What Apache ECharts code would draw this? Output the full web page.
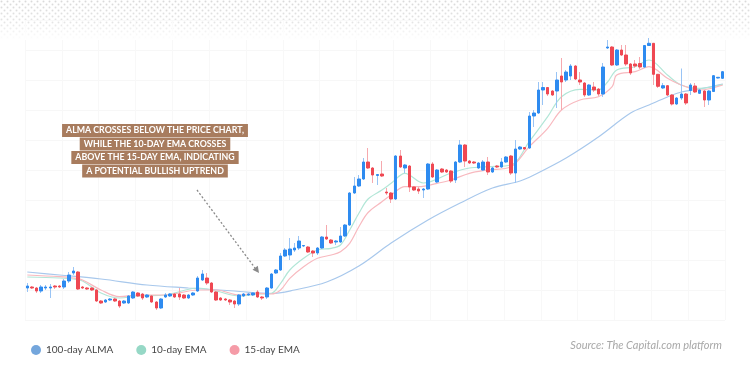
<!DOCTYPE html>
<html><head><meta charset="utf-8">
<script src="https://cdn.jsdelivr.net/npm/echarts@6/dist/echarts.min.js"></script>
<style>html,body{margin:0;padding:0;background:#fff;}#chart{width:750px;height:367px;}</style>
</head><body><div id="chart"></div>
<script>
// ---- candle data (arbitrary price units) ----
const candleOpen = [52,53,52,49,52,52,54,54,53,59,67,68,53,52,52,50,39,38,40,41,39,37,37,42,47,46,43,44,38,32,43,44,46,46,45,42,45,49,60,62,57,48,42,41,40,39,36,44,45,45,48,43,43,52,67,70,84,85,90,92,94,93,89,87,92,103,100,98,98,104,115,147,154,161,178,172,164.5,166,148,147,141,184,172,174,153,151,150,151,176,158,171,170,169,160,178,195,179,178,172,170,178,168,174,173,178,184,167,191,192.5,192,224,227,250,252.5,249,249,264,260,264,274,260,257,245,253,251,246,292,293,275,290,285,276,276,276.5,273,294.5,296.7,265.7,252,254.3,245,236,242,246,249.5,254,246.7,249,240,248.5,262,261.7];
const candleClose = [54,52,49,53,53,53,53,53,59,65,69,51,52,51,50,39,37,40,41,39,34,39,44,48,44,42,45,38,32,41,45,46,43,43,42,45,47,62,66,57,48,40,40,40,38,36,45,46,46,47,43,42,52,66,70,84,90,91,92,99,94.5,88,87,92,103,101,97,99,104,115,147,154,161,178,172,165,165.5,164,147,141,184,173,175,153,150,149,151,176,163,170,168,168,159,178,195,179,177,177,177,178,168,172,173,178,183,167,191,193,191,224,227,250,252.5,246,245,260,258,268,274,261,258,245,255,250,246,273,293,275,290,285,276,267,274,273,294.5,296.7,265.7,253.7,254.3,245,236,242,246,237,255,248,250,240,249,264.3,262.7,268.3];
const candleLow = [48,51,47,47,50,42,51,52,51,57,65,50,51,50,49,38,36,37,39,38,32,36,36,41,43,40,42,37,30,31,42,43,42,40,41,41,44,48,59,55,47,39,39,39,35,32,34,43,44,44,42,40,41,51,66,69,83,80,88,90,93,87,83,85,91,100,96,95,97,103,114,146,153,160,171,157,155,163,145,137,140,172,167,148,149,146,142,150,162,157,167,167,157,157,177,173,176,176,171,169,165,167,172,172,177,165,157,190,190,191,213,226,235,244,244,232,230,258,260,260,255,243,244,248,244,243,291,274,274,284,274,265,272,271,272,294,255,252,251,244,234.5,235,240,235,245,247,246,233,235,248,261.5,261];
const candleHigh = [57,54,53,55,55,56,55,55,61,68,73,69,54,53,53,51,40,41,42,42,40,40,45,49,48,47,46,45,39,42,47,47,47,52,46,46,48,64,70,67,58,49,43,42,41,40,46,47,47,48,50,44,53,67,71,87,92,102,97,104,95,94,90,93,104,115,101,100,113,116,148,163,165,182,192,173,166,179,152,148,185,190,176,175,154,153,152,177,178,171,172,171,170,179,200,196,180,179,178,180,183,173,175,182,184,185,200,194,193,228,230,258,258,253,250,268,282,270,276,275,268,258,256,258,252,277,300,294,291,295,295,277,280,283,295,302,297,266,257,255,246,243,271.5,247,257,257,251,250,250,265,263,269];

// ---- indicator lines, read at selected candle positions ----
const almaX = [0,7,16,26,35,45,53,58,65,72,79,87,94,101,107,110,117,124,131,135,139,142,146,151];
const almaY = [68,65,61,55,52,49,46.5,50,58,74,97,120,137,152,159,165,182,203,227,235,243,248,251,256];
const ema10X = [0,7,10,12,16,20,24,30,37,41,46,50,53,55,57,60,63,66,68,70,72,74,76.5,78.7,81.5,86,92.4,96,100.4,104.8,109,112.8,116.3,120,123.6,126,127.6,131.5,135,139,142.3,146,151];
const ema10Y = [63,62,61,59,47,42,44,45,52,49,44,46,46.7,56.7,70,81.7,90,91.7,95,110,126.7,141,150,156.7,166.7,157,167,172,173.3,175,198.3,223.3,243.3,250.7,250,258,270,273.3,280,265,255,251.7,255.7];
const ema15X = [0,7,10,12,16,20,24,30,37,41,46,50,53,55,57,60,63,66,68,70,72,74,76.5,78.7,81.5,85,89,92.4,96,100.4,104.8,109,112.8,116.3,120,123.6,126.5,128,131.5,135,139,142.3,146,151];
const ema15Y = [65,63.3,62,60,50,43.3,45,45,50,50,45,46.7,46,50,61.7,73.3,81.7,85,88.3,96.7,113.3,127.5,138.3,145,153.3,153.3,156.7,160,166.7,170,173.3,193.3,211.7,230,240,243.3,253.3,265,268.3,273.3,261.7,255,250,255];

const seriesNames = ['100-day ALMA', '10-day EMA', '15-day EMA'];
const annotationLines = [
  'ALMA CROSSES BELOW THE PRICE CHART,',
  'WHILE THE 10-DAY EMA CROSSES',
  'ABOVE THE 15-DAY EMA, INDICATING',
  'A POTENTIAL BULLISH UPTREND'
];
const sourceText = 'Source: The Capital.com platform';

const categories = candleOpen.map((_, i) => 'Day ' + (i + 1));
const ohlc = candleOpen.map((o, i) => [o, candleClose[i], candleLow[i], candleHigh[i]]);
const bodies = candleOpen.map((o, i) => [o, candleClose[i], Math.min(o, candleClose[i]), Math.max(o, candleClose[i])]);
const pairs = (xs, ys) => xs.map((x, i) => [x, ys[i]]);

// dotted pattern for the top band
const pat = document.createElement('canvas');
pat.width = 6; pat.height = 6;
const pc = pat.getContext('2d');
pc.fillStyle = '#d9d9d9';
pc.beginPath(); pc.arc(1.5, 1.5, 1.0, 0, Math.PI * 2); pc.fill();
pc.beginPath(); pc.arc(4.5, 4.5, 1.0, 0, Math.PI * 2); pc.fill();

const chart = echarts.init(document.getElementById('chart'), null, {renderer: 'canvas'});

const annGraphics = annotationLines.map((t, i) => ({
  type: 'text', z: 20,
  x: 155, y: 124 + i * 13.5,
  style: {
    text: t, fill: '#fff', font: 'bold 8.8px Lato', align: 'center',
    backgroundColor: '#a87c5e', padding: [2, 4, 2, 4]
  }
}));

chart.setOption({
  animation: false,
  backgroundColor: '#fff',
  grid: {left: 25, width: 700, top: 20, height: 300},
  xAxis: {
    type: 'category', data: categories, boundaryGap: true,
    axisLine: {show: false}, axisTick: {show: false}, axisLabel: {show: false},
    splitLine: {show: true, interval: 7, lineStyle: {color: '#f8f8f8', width: 1}}
  },
  yAxis: {
    type: 'value', min: 20, max: 320, interval: 30,
    axisLine: {show: false}, axisTick: {show: false}, axisLabel: {show: false},
    splitLine: {show: true, lineStyle: {color: '#f7f7f7', width: 1}}
  },
  legend: {
    data: seriesNames, left: 26, top: 340, icon: 'circle',
    itemWidth: 10, itemHeight: 10, itemGap: 23,
    textStyle: {fontSize: 10, color: '#444', fontFamily: 'Lato'}
  },
  series: [
    {
      name: seriesNames[0], type: 'line', data: pairs(almaX, almaY), smooth: 0.35,
      showSymbol: false, z: 3,
      itemStyle: {color: '#74a6dc'}, lineStyle: {color: '#a8c8ec', width: 1.2}
    },
    {
      name: seriesNames[1], type: 'line', data: pairs(ema10X, ema10Y), smooth: 0.35,
      showSymbol: false, z: 3,
      itemStyle: {color: '#96d8c6'}, lineStyle: {color: '#b2e6d7', width: 1.2}
    },
    {
      name: seriesNames[2], type: 'line', data: pairs(ema15X, ema15Y), smooth: 0.35,
      showSymbol: false, z: 3,
      itemStyle: {color: '#f59ba7'}, lineStyle: {color: '#f8b9bf', width: 1.2}
    },
    {
      name: 'wicks', type: 'candlestick', data: ohlc, barWidth: 1, z: 4,
      itemStyle: {color: '#99c4f5', color0: '#f6a9ae', borderColor: '#99c4f5', borderColor0: '#f6a9ae', borderWidth: 1}
    },
    {
      name: 'bodies', type: 'candlestick', data: bodies, barWidth: 3, z: 5,
      itemStyle: {color: '#2e8bf0', color0: '#ef4853', borderColor: '#2e8bf0', borderColor0: '#ef4853', borderWidth: 1}
    }
  ],
  graphic: [
    {type: 'rect', shape: {x: 0, y: 0, width: 750, height: 40}, z: 0, silent: true,
     style: {fill: {image: pat, repeat: 'repeat'}}},
    {type: 'rect', shape: {x: 0, y: 0, width: 750, height: 40}, z: 1, silent: true,
     style: {fill: new echarts.graphic.LinearGradient(0, 0, 0, 1, [
       {offset: 0, color: 'rgba(255,255,255,0)'},
       {offset: 0.55, color: 'rgba(255,255,255,0.3)'},
       {offset: 1, color: 'rgba(255,255,255,1)'}])}},
    {type: 'line', z: 20, shape: {x1: 197, y1: 190, x2: 255, y2: 268},
     style: {stroke: '#8a8a8a', lineWidth: 1.3, lineDash: [2, 2]}},
    {type: 'polygon', z: 20, shape: {points: [[259, 273], [252.5, 269.8], [257.8, 265.8]]},
     style: {fill: '#8a8a8a'}},
    {type: 'text', z: 20, x: 722, y: 340,
     style: {text: sourceText, fill: '#a8a8a8', font: 'italic 11px Lato', align: 'right'}}
  ].concat(annGraphics)
});
</script>
</body></html>
